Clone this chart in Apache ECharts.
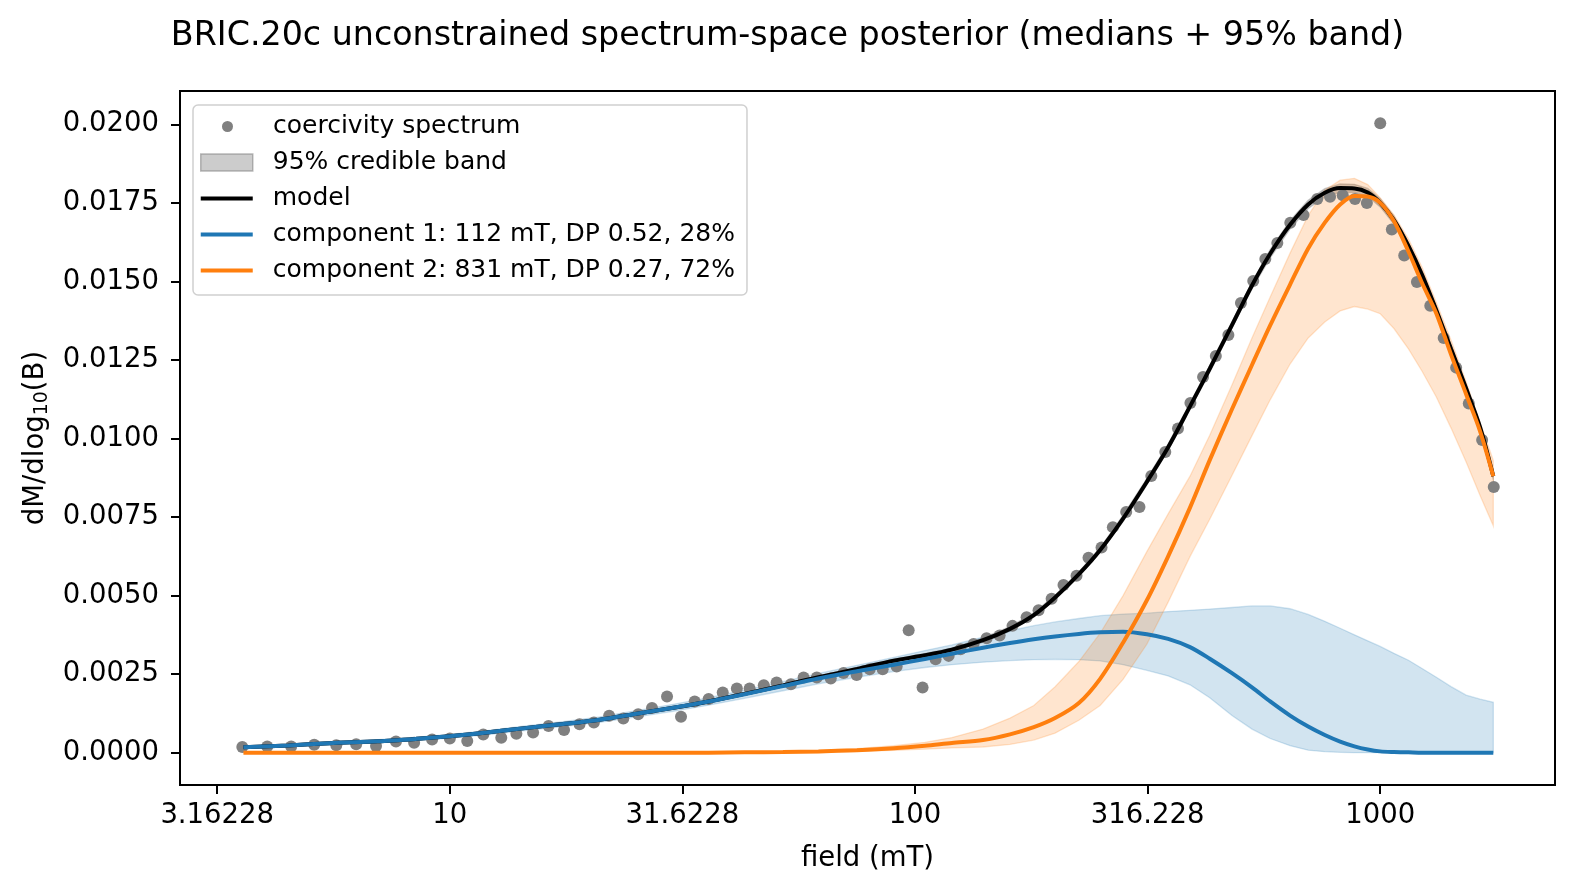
<!DOCTYPE html>
<html><head><meta charset="utf-8">
<script src="https://cdn.jsdelivr.net/npm/echarts@6/dist/echarts.min.js"></script>
<style>html,body{margin:0;padding:0;background:#fff}#chart{width:1575px;height:892px}</style>
</head><body><div id="chart"></div>
<script>
// ---- measured coercivity spectrum (field in mT, dM/dlog10(B)) ----
const specField = [3.58, 4.05, 4.56, 5.11, 5.70, 6.29, 6.94, 7.66, 8.38, 9.16,
  10.0, 10.9, 11.8, 12.9, 13.9, 15.1, 16.3, 17.6, 19.0, 20.4,
  22.0, 23.6, 25.4, 27.2, 29.3, 31.4, 33.6, 36.0, 38.6, 41.4,
  44.1, 47.3, 50.4, 54.1, 57.6, 61.5, 65.9, 70.2, 74.9, 79.9,
  85.2, 91.3, 96.9, 103.8, 110.7, 118.1, 125.3, 133.6, 142.5, 152.0,
  162.0, 173.7, 184.3, 196.6, 208.5, 222.4, 236.0, 251.7,
  266.2, 284.4, 303.7, 322.0, 345.1, 367.5, 390.8, 416.1, 443.2, 471.6,
  501.8, 533.4, 566.2, 600.9, 640.7, 684, 732.1, 780.0, 830.6, 882.6,
  935.9, 1000, 1059, 1126, 1199, 1281, 1369, 1456, 1550, 1656, 1754];
const specValue = [0.000182, 0.000197, 0.000197, 0.000252, 0.000236, 0.000268, 0.000210, 0.000357, 0.000315, 0.000420,
  0.000449, 0.000369, 0.000576, 0.000475, 0.000602, 0.000640, 0.000850, 0.000723, 0.000904, 0.000959,
  0.001175, 0.001086, 0.001223, 0.001424, 0.001790, 0.001143, 0.001627, 0.001710, 0.001914, 0.002041,
  0.002045, 0.002146, 0.002232, 0.002178, 0.002392, 0.002392, 0.002363, 0.002538, 0.002471, 0.002656,
  0.002656, 0.002742, 0.003898, 0.002073, 0.002975, 0.003080, 0.003290, 0.003459, 0.003643, 0.003729,
  0.004035, 0.004312, 0.004529, 0.004901, 0.005338, 0.005627, 0.006207, 0.006532,
  0.007178, 0.007656, 0.007815, 0.008803, 0.009567, 0.010315, 0.011127, 0.011955, 0.012624, 0.013293,
  0.014312, 0.015013, 0.015713, 0.016223, 0.016866, 0.017115, 0.017624, 0.017697, 0.017739, 0.017624,
  0.017497, 0.020032, 0.016653, 0.015822, 0.014981, 0.014226, 0.013197, 0.012255, 0.011115, 0.009949,
  0.008452];

// ---- posterior curves sampled on a field grid (mT) ----
const curveField = [3.6, 4.5, 5.5, 7, 8.5, 10, 12, 14.5, 17.5, 21, 25, 30, 36, 43, 52, 62, 75, 90, 105, 120,
  140, 160, 180, 200, 225, 250, 280, 315, 350, 390, 430, 480, 530, 580, 640, 700, 760, 820, 880, 940,
  1000, 1070, 1150, 1230, 1320, 1420, 1530, 1640, 1750];
const modelMed = [0.00017, 0.00023, 0.00030, 0.00036, 0.00044, 0.00052, 0.00064, 0.00078, 0.00091, 0.00105,
  0.00123, 0.00142, 0.00163, 0.00187, 0.00214, 0.00240, 0.00266, 0.00293, 0.00310, 0.00328,
  0.00358, 0.00394, 0.00438, 0.00494, 0.00568, 0.00645, 0.00745, 0.00862, 0.00972, 0.01102,
  0.01222, 0.01361, 0.01487, 0.01588, 0.01680, 0.01745, 0.01782, 0.01797, 0.01796, 0.01783,
  0.01750, 0.01695, 0.01613, 0.01521, 0.01408, 0.01285, 0.01159, 0.01035, 0.00880];
const modelLo = [0.00014, 0.00020, 0.00027, 0.00033, 0.00041, 0.00049, 0.00061, 0.00075, 0.00088, 0.00102,
  0.00119, 0.00138, 0.00159, 0.00183, 0.00210, 0.00236, 0.00261, 0.00288, 0.00305, 0.00323,
  0.00351, 0.00387, 0.00431, 0.00487, 0.00561, 0.00638, 0.00735, 0.00852, 0.00962, 0.01092,
  0.01212, 0.01351, 0.01477, 0.01575, 0.01667, 0.01732, 0.01769, 0.01784, 0.01783, 0.01770,
  0.01737, 0.01682, 0.01603, 0.01511, 0.01398, 0.01275, 0.01149, 0.01025, 0.00870];
const modelHi = [0.00020, 0.00026, 0.00033, 0.00039, 0.00047, 0.00055, 0.00067, 0.00081, 0.00094, 0.00108,
  0.00127, 0.00146, 0.00167, 0.00191, 0.00218, 0.00244, 0.00271, 0.00298, 0.00315, 0.00333,
  0.00365, 0.00401, 0.00445, 0.00501, 0.00575, 0.00652, 0.00755, 0.00872, 0.00982, 0.01112,
  0.01232, 0.01371, 0.01497, 0.01601, 0.01693, 0.01758, 0.01795, 0.01810, 0.01809, 0.01796,
  0.01763, 0.01708, 0.01623, 0.01531, 0.01418, 0.01295, 0.01169, 0.01045, 0.00890];
const comp1Med = [0.00017, 0.00023, 0.00030, 0.00036, 0.00044, 0.00052, 0.00064, 0.00078, 0.00091, 0.00105,
  0.00123, 0.00142, 0.00163, 0.00186, 0.00212, 0.00236, 0.00259, 0.00280, 0.00298, 0.00315,
  0.00334, 0.00349, 0.00361, 0.00370, 0.00378, 0.00383, 0.00385, 0.00377, 0.00362, 0.00336,
  0.00299, 0.00253, 0.00208, 0.00163, 0.00118, 0.00083, 0.00056, 0.00035, 0.00020, 0.00010,
  0.00004, 0.00002, 0.00001, 0, 0, 0, 0, 0, 0];
const comp1Lo = [0.00014, 0.00019, 0.00025, 0.00031, 0.00038, 0.00046, 0.00057, 0.00070, 0.00083, 0.00096,
  0.00113, 0.00131, 0.00151, 0.00173, 0.00197, 0.00219, 0.00240, 0.00258, 0.00271, 0.00280,
  0.00288, 0.00293, 0.00296, 0.00297, 0.00296, 0.00292, 0.00280, 0.00262, 0.00244, 0.00216,
  0.00175, 0.00118, 0.00075, 0.00045, 0.00022, 0.00008, 0.00003, 0.00001, 0, 0,
  0, 0, 0, 0, 0, 0, 0, 0, 0];
const comp1Hi = [0.00020, 0.00027, 0.00034, 0.00041, 0.00049, 0.00058, 0.00070, 0.00085, 0.00099, 0.00114,
  0.00133, 0.00153, 0.00175, 0.00199, 0.00226, 0.00252, 0.00278, 0.00303, 0.00325, 0.00343,
  0.00368, 0.00388, 0.00404, 0.00416, 0.00427, 0.00436, 0.00441, 0.00444, 0.00449, 0.00453,
  0.00457, 0.00462, 0.00467, 0.00467, 0.00458, 0.00440, 0.00418, 0.00396, 0.00375, 0.00356,
  0.00338, 0.00316, 0.00294, 0.00268, 0.00240, 0.00210, 0.00183, 0.00170, 0.00160];
const comp2Med = [0, 0, 0, 0, 0, 0, 0, 0, 0, 0,
  0, 0, 0, 0.00001, 0.00002, 0.00004, 0.00008, 0.00014, 0.00022, 0.00031,
  0.00040, 0.00058, 0.00081, 0.00110, 0.00158, 0.00235, 0.00350, 0.00485, 0.00625, 0.00780,
  0.00931, 0.01093, 0.01234, 0.01360, 0.01490, 0.01605, 0.01687, 0.01745, 0.01772, 0.01770,
  0.01750, 0.01692, 0.01595, 0.01495, 0.01398, 0.01267, 0.01141, 0.01022, 0.00880];
const comp2Lo = [0, 0, 0, 0, 0, 0, 0, 0, 0, 0,
  0, 0, 0, 0, 0, 0, 0.00004, 0.00007, 0.00011, 0.00015,
  0.00018, 0.00026, 0.00040, 0.00062, 0.00103, 0.00150, 0.00233, 0.00345, 0.00479, 0.00624,
  0.00743, 0.00882, 0.01009, 0.01123, 0.01237, 0.01320, 0.01371, 0.01406, 0.01420, 0.01412,
  0.01397, 0.01350, 0.01285, 0.01214, 0.01132, 0.01033, 0.00925, 0.00818, 0.00722];
const comp2Hi = [0, 0, 0, 0, 0, 0, 0, 0, 0, 0,
  0, 0, 0, 0.00002, 0.00004, 0.00007, 0.00013, 0.00022, 0.00033, 0.00048,
  0.00075, 0.00110, 0.00150, 0.00210, 0.00290, 0.00380, 0.00500, 0.00640, 0.00760, 0.00880,
  0.01010, 0.01170, 0.01320, 0.01450, 0.01590, 0.01710, 0.01790, 0.01822, 0.01828, 0.01808,
  0.01766, 0.01712, 0.01635, 0.01545, 0.01433, 0.01313, 0.01180, 0.01050, 0.00930];

// ---- axis ticks & text ----
const yTicks = [0, 0.0025, 0.005, 0.0075, 0.01, 0.0125, 0.015, 0.0175, 0.02];
const titleText = 'BRIC.20c unconstrained spectrum-space posterior (medians + 95% band)';
const nameSpec = 'coercivity spectrum';
const nameBand = '95% credible band';
const nameModel = 'model';
const nameC1 = 'component 1: 112 mT, DP 0.52, 28%';
const nameC2 = 'component 2: 831 mT, DP 0.27, 72%';

const FONT = 'DejaVu Sans';
const C_BLUE = '#1f77b4', C_ORANGE = '#ff7f0e';
const LW = 4;

function pairs(xs, ys) { return xs.map((x, i) => [x, ys[i]]); }
function band(name, lo, hi, fill, stroke) {
  return {
    type: 'custom', name: name, silent: true, clip: true,
    itemStyle: { color: fill },
    data: curveField.map((x, i) => [x, lo[i], hi[i]]),
    encode: { x: 0, y: [1, 2] },
    renderItem: function (params, api) {
      if (params.dataIndex !== 0) return null;
      const pts = [];
      for (let i = 0; i < curveField.length; i++) pts.push(api.coord([curveField[i], hi[i]]));
      for (let i = curveField.length - 1; i >= 0; i--) pts.push(api.coord([curveField[i], lo[i]]));
      return { type: 'polygon', shape: { points: pts },
               style: { fill: fill, stroke: stroke, lineWidth: 1.3 } };
    }
  };
}
function line(name, ys, color) {
  return { type: 'line', name: name, data: pairs(curveField, ys), symbol: 'none',
           smooth: 0.3,
           silent: true, lineStyle: { color: color, width: LW }, itemStyle: { color: color } };
}
const lineIcon = 'path://M0,0H52V4H0Z';

const chart = echarts.init(document.getElementById('chart'), null, { renderer: 'canvas' });
const legendText = { fontFamily: FONT, fontSize: 25, color: '#000', lineHeight: 25, padding: [0, 0, 0, 15] };
chart.setOption({
  animation: false,
  backgroundColor: '#fff',
  title: { text: titleText, left: 'center', top: 20, padding: 0,
           textStyle: { fontFamily: FONT, fontSize: 33.3, fontWeight: 'normal', color: '#000' } },
  grid: { left: 180, right: 20, top: 91, bottom: 107, show: true, borderColor: '#000', borderWidth: 2,
          backgroundColor: 'transparent', containLabel: false },
  legend: [
    { orient: 'vertical', left: 193, top: 105, padding: [45, 12, 12, 7], itemGap: 11,
      itemWidth: 52, itemHeight: 17, selectedMode: false, z: 4,
      backgroundColor: '#fff', borderColor: '#d0d0d0', borderWidth: 1.5, borderRadius: 5,
      textStyle: legendText,
      data: [
        { name: nameBand, icon: 'rect', itemStyle: { color: 'rgba(128,128,128,0.4)', borderColor: 'rgba(128,128,128,0.55)', borderWidth: 1.5 } },
        { name: nameModel, icon: lineIcon, itemStyle: { color: '#000000', borderWidth: 0 } },
        { name: nameC1, icon: lineIcon, itemStyle: { color: C_BLUE, borderWidth: 0 } },
        { name: nameC2, icon: lineIcon, itemStyle: { color: C_ORANGE, borderWidth: 0 } }
      ] },
    { orient: 'vertical', left: 193, top: 105, padding: [9, 12, 0, 29],
      itemWidth: 11, itemHeight: 11, selectedMode: false, z: 6,
      textStyle: { fontFamily: FONT, fontSize: 25, color: '#000', lineHeight: 25, padding: [0, 0, 0, 35] },
      data: [{ name: nameSpec, icon: 'circle', itemStyle: { color: '#808080' } }] }
  ],
  xAxis: {
    type: 'log', logBase: Math.sqrt(10), min: 2.63, max: 2375,
    name: 'field (mT)', nameLocation: 'middle', nameGap: 60,
    nameTextStyle: { fontFamily: FONT, fontSize: 27.5, color: '#000' },
    splitLine: { show: false }, minorTick: { show: false },
    axisLine: { show: false, onZero: false },
    axisTick: { show: true, inside: false, length: 9, lineStyle: { color: '#000', width: 2 } },
    axisLabel: { fontFamily: FONT, fontSize: 27.5, color: '#000', margin: 17,
                 showMinLabel: false, showMaxLabel: false,
                 formatter: v => String(parseFloat(Number(v).toPrecision(6))) }
  },
  yAxis: {
    type: 'value', min: -0.00103, max: 0.02106,
    name: '{a|dM/dlog}{b|10}{a|(B)}', nameLocation: 'middle', nameGap: 126, nameRotate: 90,
    nameTextStyle: { rich: {
      a: { fontFamily: FONT, fontSize: 27.5, color: '#000', lineHeight: 32 },
      b: { fontFamily: FONT, fontSize: 19, color: '#000', lineHeight: 19, verticalAlign: 'bottom' } } },
    splitLine: { show: false },
    axisLine: { show: false, onZero: false },
    axisTick: { show: true, length: 9, lineStyle: { color: '#000', width: 2 }, customValues: yTicks },
    axisLabel: { fontFamily: FONT, fontSize: 27.5, color: '#000', margin: 21, customValues: yTicks,
                 formatter: v => Number(v).toFixed(4) }
  },
  series: [
    { type: 'scatter', name: nameSpec, data: pairs(specField, specValue), symbol: 'circle', symbolSize: 12,
      silent: true, itemStyle: { color: '#808080', opacity: 1 } },
    band(nameBand, modelLo, modelHi, 'rgba(128,128,128,0.4)', 'rgba(128,128,128,0.4)'),
    line(nameModel, modelMed, '#000000'),
    band('comp1 band', comp1Lo, comp1Hi, 'rgba(31,119,180,0.2)', 'rgba(31,119,180,0.2)'),
    line(nameC1, comp1Med, C_BLUE),
    band('comp2 band', comp2Lo, comp2Hi, 'rgba(255,127,14,0.2)', 'rgba(255,127,14,0.2)'),
    line(nameC2, comp2Med, C_ORANGE)
  ]
});
</script></body></html>
